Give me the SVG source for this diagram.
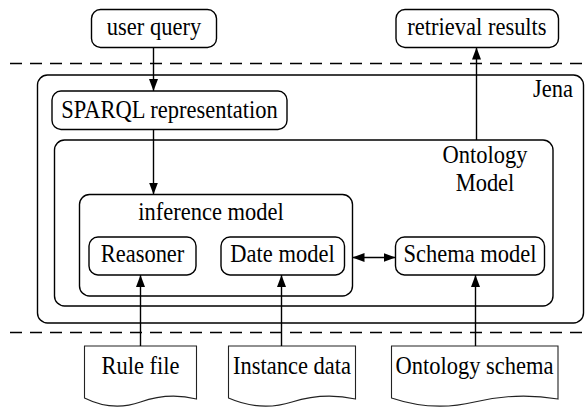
<svg xmlns="http://www.w3.org/2000/svg" width="588" height="407" viewBox="0 0 588 407">
  <style>
    .box { fill: #fff; stroke: #000; stroke-width: 1.4; }
    .frame { fill: none; stroke: #000; stroke-width: 1.4; }
    .doc { fill: #fff; stroke: #222; stroke-width: 1.1; }
    .lbl { font-family: "Liberation Serif", "Times New Roman", serif; font-size: 22.5px; fill: #000; }
    .mid { text-anchor: middle; }
    .end { text-anchor: end; }
    .edge { fill: none; stroke: #000; stroke-width: 1.4; }
    .sep { fill: none; stroke: #000; stroke-width: 1.4; stroke-dasharray: 12 8; }
  </style>
  <defs>
    <marker id="arrow" viewBox="0 0 12 9" refX="12" refY="4.5" markerWidth="12" markerHeight="9" markerUnits="userSpaceOnUse" orient="auto-start-reverse">
      <path d="M0,0 L12,4.5 L0,9 Z" fill="#000"/>
    </marker>
  </defs>

  <!-- layer separators -->
  <line class="sep" x1="10" y1="63.5" x2="588" y2="63.5"/>
  <line class="sep" x1="10" y1="332.5" x2="588" y2="332.5"/>

  <!-- containers; labels are set in a slightly tall serif (y scaled 1.15) -->
  <g id="jena">
    <rect class="frame" x="37.5" y="75" width="546" height="248" rx="10"/>
    <text class="lbl end" transform="matrix(1 0 0 1.15 573 97)">Jena</text>
  </g>
  <g id="ontology-model">
    <rect class="frame" x="54.5" y="140" width="498.5" height="166" rx="10"/>
    <text class="lbl mid" transform="matrix(1 0 0 1.15 485 163)">Ontology</text>
    <text class="lbl mid" transform="matrix(1 0 0 1.15 485 191)">Model</text>
  </g>
  <g id="inference-model">
    <rect class="frame" x="79.5" y="194.5" width="273" height="101.5" rx="10"/>
    <text class="lbl mid" transform="matrix(1 0 0 1.15 211 220)">inference model</text>
  </g>

  <!-- nodes -->
  <g id="user-query">
    <rect class="box" x="91.5" y="9.5" width="125" height="38" rx="9"/>
    <text class="lbl mid" transform="matrix(1 0 0 1.15 154 35)">user query</text>
  </g>
  <g id="retrieval-results">
    <rect class="box" x="396" y="9.5" width="162.5" height="38" rx="9"/>
    <text class="lbl mid" transform="matrix(1 0 0 1.15 477 35)">retrieval results</text>
  </g>
  <g id="sparql">
    <rect class="box" x="52" y="91" width="235" height="38.5" rx="9"/>
    <text class="lbl mid" transform="matrix(1 0 0 1.15 169.5 118)">SPARQL representation</text>
  </g>
  <g id="reasoner">
    <rect class="box" x="89" y="237" width="107" height="38" rx="9"/>
    <text class="lbl mid" transform="matrix(1 0 0 1.15 142.5 262)">Reasoner</text>
  </g>
  <g id="date-model">
    <rect class="box" x="221" y="237" width="123.5" height="38" rx="9"/>
    <text class="lbl mid" transform="matrix(1 0 0 1.15 282.5 262)">Date model</text>
  </g>
  <g id="schema-model">
    <rect class="box" x="395.5" y="237" width="149" height="38" rx="9"/>
    <text class="lbl mid" transform="matrix(1 0 0 1.15 470 262)">Schema model</text>
  </g>

  <!-- document sources -->
  <g id="rule-file">
    <path class="doc" d="M84.5,346 H196.5 V399 Q168.5,392 140.5,402 T84.5,398 Z"/>
    <text class="lbl mid" transform="matrix(1 0 0 1.15 140.5 374)">Rule file</text>
  </g>
  <g id="instance-data">
    <path class="doc" d="M228.5,346 H355.5 V399 Q323.5,392 292,402 T228.5,398 Z"/>
    <text class="lbl mid" transform="matrix(1 0 0 1.15 292 374)">Instance data</text>
  </g>
  <g id="ontology-schema">
    <path class="doc" d="M391.5,346 H558 V399 Q516,392 474.5,402 T391.5,398 Z"/>
    <text class="lbl mid" transform="matrix(1 0 0 1.15 474.5 374)">Ontology schema</text>
  </g>

  <!-- connectors -->
  <g id="connectors">
    <line class="edge" x1="153.5" y1="47.5" x2="153.5" y2="91" marker-end="url(#arrow)"/>
    <line class="edge" x1="153.5" y1="129.5" x2="153.5" y2="194.5" marker-end="url(#arrow)"/>
    <line class="edge" x1="476.5" y1="140" x2="476.5" y2="47.5" marker-end="url(#arrow)"/>
    <line class="edge" x1="352.5" y1="257.5" x2="395.5" y2="257.5" marker-start="url(#arrow)" marker-end="url(#arrow)"/>
    <line class="edge" x1="140.5" y1="346" x2="140.5" y2="275" marker-end="url(#arrow)"/>
    <line class="edge" x1="281.5" y1="346" x2="281.5" y2="275" marker-end="url(#arrow)"/>
    <line class="edge" x1="475.5" y1="346" x2="475.5" y2="275" marker-end="url(#arrow)"/>
  </g>
</svg>
